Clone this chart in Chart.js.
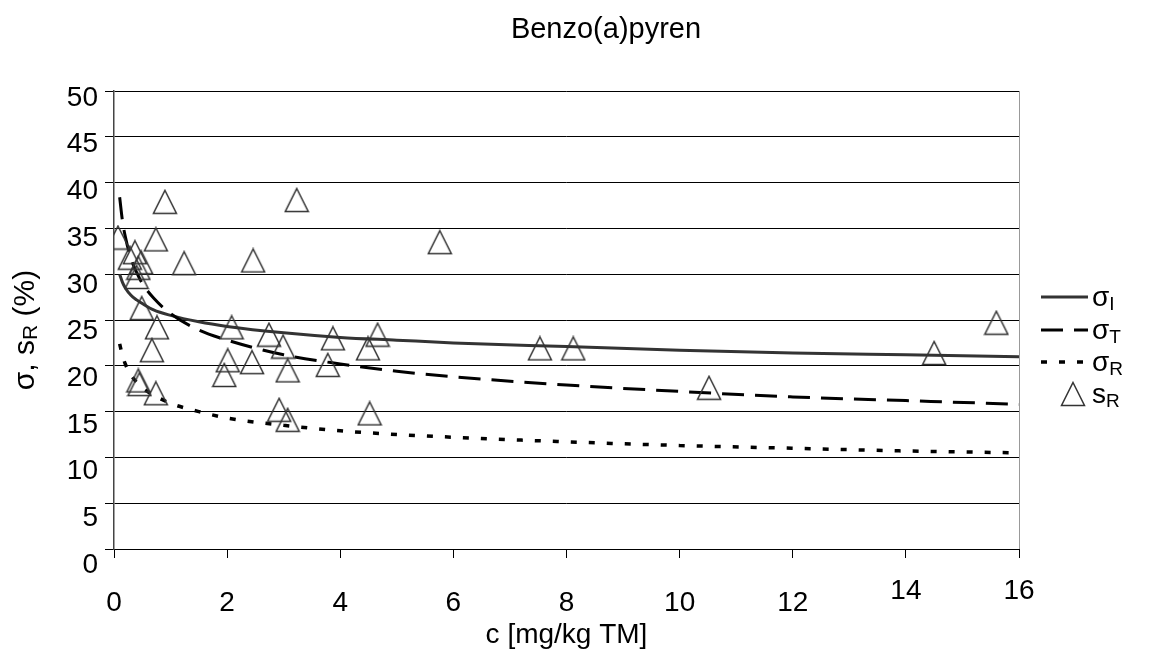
<!DOCTYPE html>
<html>
<head>
<meta charset="utf-8">
<script src="https://cdn.jsdelivr.net/npm/chart.js@4/dist/chart.umd.min.js"></script>
<style>
  html, body { margin: 0; padding: 0; background: #fff; }
</style>
</head>
<body>
<canvas id="myChart" width="1158" height="653"></canvas>
<script>
// curves
const curveC = [0.1, 0.15, 0.2, 0.3, 0.4, 0.5, 0.7, 1, 1.5, 2, 3, 4, 5, 6, 8, 10, 12, 14, 16];
const sigmaI = [30.0, 29.1, 28.5, 27.7, 27.2, 26.8, 26.1, 25.5, 24.8, 24.3, 23.6, 23.1, 22.8, 22.5, 22.1, 21.7, 21.4, 21.2, 21.0];
const sigmaT = [38.4, 35.8, 34.1, 31.7, 30.2, 29.0, 27.4, 25.7, 23.9, 22.8, 21.2, 20.2, 19.4, 18.8, 17.9, 17.2, 16.6, 16.2, 15.8];
const sigmaR = [22.4, 21.1, 20.2, 19.0, 18.2, 17.6, 16.8, 15.9, 15.0, 14.3, 13.5, 12.9, 12.5, 12.2, 11.7, 11.3, 11.0, 10.7, 10.5];

// lab results s_R
const labC = [0.07, 0.28, 0.37, 0.40, 0.43, 0.43, 0.45, 0.48, 0.49, 0.67, 0.74, 0.74, 0.76, 0.90, 1.24,
    1.95, 2.01, 2.08, 2.44, 2.46, 2.74, 2.92, 2.99, 3.07, 3.07, 3.23, 3.78, 3.87, 4.49, 4.52, 4.66,
    5.76, 7.53, 8.12, 10.52, 14.50, 15.60];
const labSR = [34.0, 31.8, 32.4, 29.7, 30.7, 18.4, 18.0, 31.3, 26.3, 21.7, 33.8, 17.0, 24.2, 37.9, 31.2,
    19.0, 20.6, 24.2, 20.4, 31.5, 23.4, 15.2, 22.1, 19.5, 14.1, 38.1, 20.1, 23.0, 21.9, 14.8, 23.4,
    33.5, 21.9, 21.9, 17.6, 21.4, 24.7];

const xTicks = [0, 2, 4, 6, 8, 10, 12, 14, 16];
const legendMain = ['σ', 'σ', 'σ', 's'];
const legendSub = ['I', 'T', 'R', 'R'];
const chartTitle = 'Benzo(a)pyren';

const FONT = "'Liberation Sans', Arial, sans-serif";

// open triangle marker
const tri = document.createElement('canvas');
tri.width = 26;
tri.height = 26;
const tctx = tri.getContext('2d');
tctx.strokeStyle = '#333';
tctx.lineWidth = 1.5;
tctx.beginPath();
tctx.moveTo(13, 1.5);
tctx.lineTo(24.5, 24.5);
tctx.lineTo(1.5, 24.5);
tctx.closePath();
tctx.stroke();

function pts(xs, ys) {
    return xs.map(function(x, i) { return { x: x, y: ys[i] }; });
}

// title, y title and legend (the last two need subscripts)
const textPlugin = {
    id: 'subText',
    afterDraw: function(chart) {
        const ctx = chart.ctx;
        ctx.save();
        ctx.fillStyle = '#000';
        ctx.textAlign = 'center';
        ctx.textBaseline = 'middle';
        ctx.font = '29px ' + FONT;
        ctx.fillText(chartTitle, 606, 30);
        ctx.textAlign = 'left';

        // y axis title
        ctx.translate(26, 330);
        ctx.rotate(-Math.PI / 2);
        const parts = [['σ, s', 30, 0], ['R', 21, 5], [' (%)', 30, 0]];
        let w = 0;
        parts.forEach(function(p) {
            ctx.font = p[1] + 'px ' + FONT;
            w += ctx.measureText(p[0]).width;
        });
        let x = -w / 2;
        parts.forEach(function(p) {
            ctx.font = p[1] + 'px ' + FONT;
            ctx.fillText(p[0], x, p[2]);
            x += ctx.measureText(p[0]).width;
        });
        ctx.restore();

        // legend
        const rowsY = [297, 330, 362, 394];
        chart.data.datasets.forEach(function(ds, i) {
            const y = rowsY[i];
            ctx.save();
            if (ds.showLine) {
                ctx.strokeStyle = ds.borderColor;
                ctx.lineWidth = ds.borderWidth;
                ctx.setLineDash(ds.borderDash || []);
                ctx.beginPath();
                ctx.moveTo(1041, y);
                ctx.lineTo(1088, y);
                ctx.stroke();
            } else {
                ctx.drawImage(tri, 1073 - 13, y - 13);
            }
            ctx.fillStyle = '#000';
            ctx.textBaseline = 'alphabetic';
            ctx.font = '28px ' + FONT;
            ctx.fillText(legendMain[i], 1092, y + 9);
            const mw = ctx.measureText(legendMain[i]).width;
            ctx.font = '19px ' + FONT;
            ctx.fillText(legendSub[i], 1092 + mw, y + 13);
            ctx.restore();
        });
    }
};

var ctx = document.getElementById('myChart').getContext('2d');
var chart = new Chart(ctx, {
    type: 'scatter',
    data: {
        datasets: [{
                label: 'σI',
                data: pts(curveC, sigmaI),
                showLine: true,
                borderColor: '#333',
                borderWidth: 3,
                pointRadius: 0,
                cubicInterpolationMode: 'monotone',
                order: 3,
            },
            {
                label: 'σT',
                data: pts(curveC, sigmaT),
                showLine: true,
                borderColor: '#000',
                borderWidth: 3,
                borderDash: [22, 11],
                pointRadius: 0,
                cubicInterpolationMode: 'monotone',
                order: 2,
            },
            {
                label: 'σR',
                data: pts(curveC, sigmaR),
                showLine: true,
                borderColor: '#000',
                borderWidth: 3.5,
                borderDash: [6, 12],
                pointRadius: 0,
                cubicInterpolationMode: 'monotone',
                order: 1,
            },
            {
                label: 'sR',
                data: pts(labC, labSR),
                showLine: false,
                pointStyle: tri,
                pointRadius: 12,
                order: 0,
            }
        ]
    },
    options: {
        responsive: false,
        animation: false,
        devicePixelRatio: 1,
        layout: { padding: { top: 91 } },
        plugins: {
            legend: { display: false },
            tooltip: { enabled: false },
        },
        scales: {
            x: {
                type: 'linear',
                min: 0,
                max: 16,
                afterBuildTicks: function(s) {
                    s.ticks = xTicks.map(function(v) { return { value: v }; });
                },
                ticks: {
                    color: '#000',
                    padding: 28,
                    maxRotation: 0,
                    autoSkip: false,
                    font: function(c) {
                        // Excel put 14 and 16 a bit higher
                        const up = c.tick && c.tick.value >= 14;
                        return { family: FONT, size: 28, lineHeight: up ? '10px' : 1.2 };
                    },
                },
                grid: {
                    drawOnChartArea: true,
                    color: function(c) {
                        return c.tick && c.tick.value === 16 ? '#999' : 'rgba(0,0,0,0)';
                    },
                    tickColor: '#000',
                    tickLength: 9,
                },
                border: { color: '#000', width: 1 },
                title: {
                    display: true,
                    text: 'c [mg/kg TM]',
                    color: '#000',
                    font: { family: FONT, size: 28 },
                    padding: { top: 0, bottom: 1 },
                },
                afterFit: function(s) { s.height = 104; },
            },
            y: {
                min: 0,
                max: 50,
                ticks: {
                    stepSize: 5,
                    padding: 7,
                    autoSkip: false,
                    color: '#000',
                    // labels sit a little below their lines, more so lower down
                    callback: function(v) { return ['', String(v)]; },
                    font: function(c) {
                        const v = c.tick ? c.tick.value : 50;
                        const off = 7 + (50 - v) * 0.18;
                        return { family: FONT, size: 28, lineHeight: (off * 2) + 'px' };
                    },
                },
                grid: { color: '#000', tickColor: '#000', tickLength: 9 },
                border: { color: '#444', width: 1.5 },
                afterFit: function(s) { s.width = 114; },
            },
            // empty room on the right for the legend
            legendRoom: {
                position: 'right',
                display: true,
                ticks: { display: false },
                grid: { display: false },
                border: { display: false },
                afterFit: function(s) { s.width = 139; },
            },
        },
    },
    plugins: [textPlugin],
});
</script>
</body>
</html>
